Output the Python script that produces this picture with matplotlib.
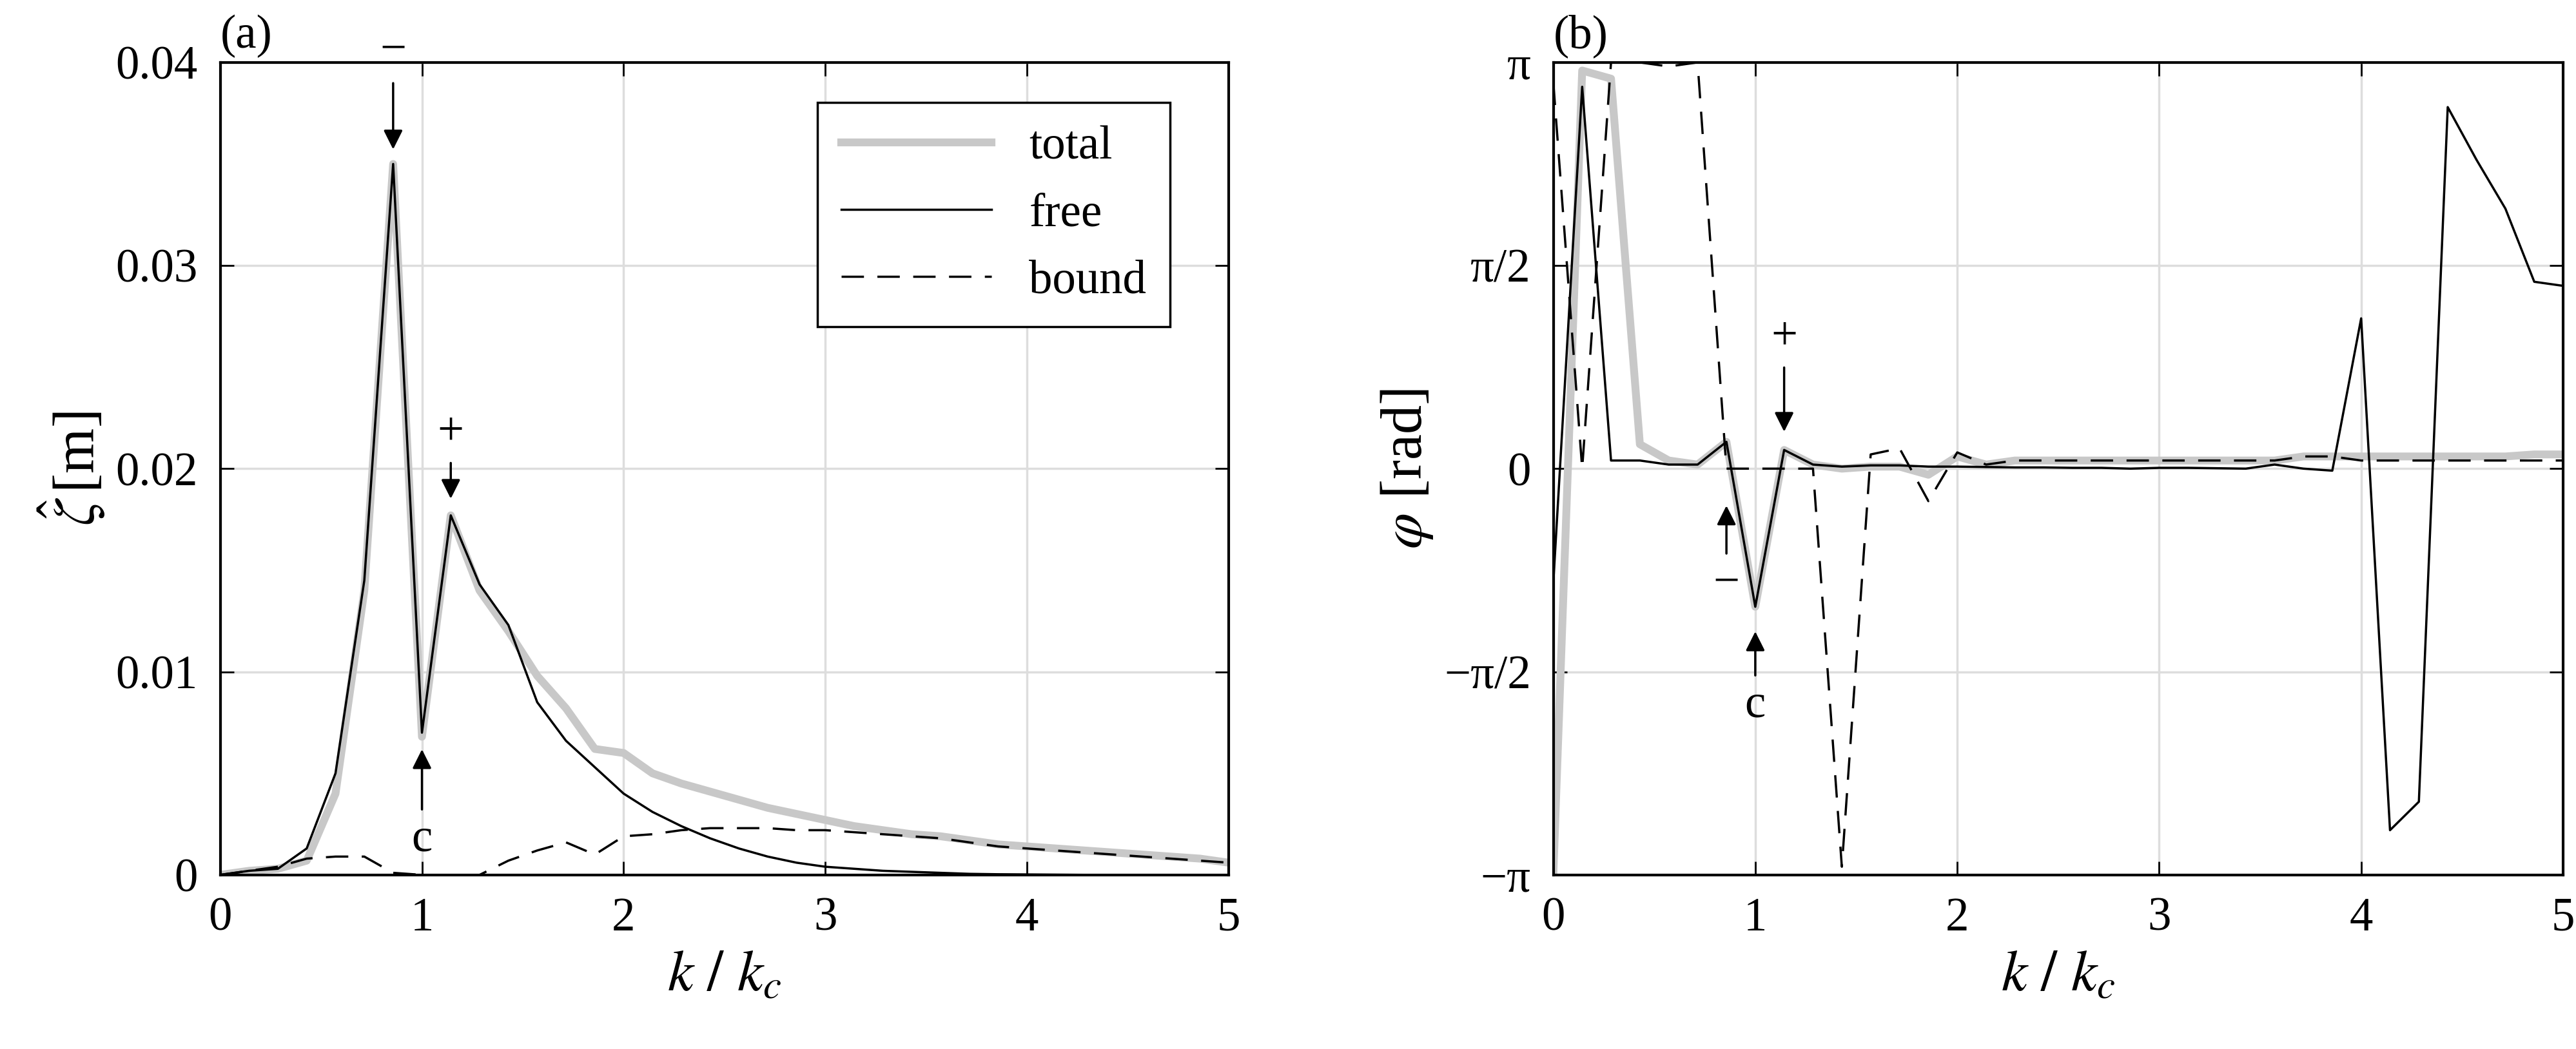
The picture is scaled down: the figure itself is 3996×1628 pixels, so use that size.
import numpy as np
import matplotlib
matplotlib.use("Agg")
import matplotlib.pyplot as plt

plt.rcParams['font.family'] = ['Liberation Serif', 'DejaVu Serif']
plt.rcParams['mathtext.fontset'] = 'stix'

k = np.arange(36) / 7.0

amp_free = [0, 0.0002, 0.0003, 0.0013, 0.005, 0.0145, 0.035, 0.007, 0.0177, 0.0143, 0.0123,
            0.0085, 0.0066, 0.0053, 0.004, 0.0031, 0.0024, 0.0018, 0.0013, 0.0009, 0.0006,
            0.0004, 0.0003, 0.0002, 0.00015, 0.0001, 0.00005, 0.00003, 0.00002, 0.00001,
            0, 0, 0, 0, 0, 0]
amp_bound = [0, 0.0002, 0.0004, 0.0008, 0.0009, 0.0009, 0.0001, 0, 0, 0, 0.0007,
             0.0012, 0.0016, 0.001, 0.0019, 0.002, 0.0022, 0.0023, 0.0023, 0.0023, 0.0022,
             0.0022, 0.0021, 0.002, 0.0019, 0.0018, 0.0016, 0.0014, 0.0013, 0.0012, 0.0011,
             0.001, 0.0009, 0.0008, 0.0007, 0.0006]
amp_total = [0, 0.0002, 0.0003, 0.0007, 0.004, 0.014, 0.035, 0.0068, 0.0177, 0.014, 0.012,
             0.0098, 0.0082, 0.0062, 0.006, 0.005, 0.0045, 0.0041, 0.0037, 0.0033, 0.003,
             0.0027, 0.0024, 0.0022, 0.002, 0.0019, 0.0017, 0.0015, 0.0014, 0.0013, 0.0012,
             0.0011, 0.001, 0.0009, 0.0008, 0.0006]

# phases in units of pi
ph_free = [-0.28, 0.94, 0.02, 0.02, 0.01, 0.01, 0.066, -0.34, 0.046, 0.01, 0.005,
           0.008, 0.008, 0.005, 0.005, 0.004, 0.003, 0.003, 0.002, 0.002, 0.0,
           0.002, 0.002, 0.001, 0.0, 0.01, 0.0, -0.005, 0.37, -0.89, -0.82,
           0.89, 0.76, 0.64, 0.46, 0.45]
ph_bound = [0.95, 0.0, 1.0, 1.0, 0.99, 1.0, 0.0, 0.0, 0.0, 0.0, -0.98,
            0.035, 0.05, -0.08, 0.04, 0.01, 0.02, 0.02, 0.02, 0.02, 0.02,
            0.02, 0.02, 0.02, 0.02, 0.02, 0.03, 0.03, 0.02, 0.02, 0.02,
            0.02, 0.02, 0.02, 0.02, 0.02]
ph_total = [-1.0, 0.98, 0.96, 0.06, 0.02, 0.01, 0.066, -0.34, 0.046, 0.01, 0.0,
            0.005, 0.005, -0.015, 0.03, 0.01, 0.02, 0.02, 0.02, 0.02, 0.02,
            0.02, 0.02, 0.02, 0.02, 0.02, 0.03, 0.03, 0.03, 0.03, 0.03,
            0.03, 0.03, 0.03, 0.035, 0.035]

fig = plt.figure(figsize=(15.984, 6.512), dpi=250)
ax1 = fig.add_axes([0.0855, 0.166, 0.3915, 0.7745])
ax2 = fig.add_axes([0.603, 0.166, 0.392, 0.7745])

gray = '#c8c8c8'
for ax in (ax1, ax2):
    ax.grid(True, color='#dddddd', lw=1.0)
    ax.set_axisbelow(True)
    ax.tick_params(direction='in', top=True, right=True, labelsize=21, length=6, pad=10)
    ax.set_xlim(0, 5)
    ax.set_xticks([0, 1, 2, 3, 4, 5])
    ax.set_xlabel('$k\\ /\\ k_c$', fontsize=26)
    for s in ax.spines.values():
        s.set_linewidth(1.2)

ax1.plot(k, amp_total, color=gray, lw=3.5, label='total')
ax1.plot(k, amp_free, color='black', lw=1.0, label='free')
ax1.plot(k, amp_bound, color='black', lw=1.0, ls=(0, (10, 6)), label='bound')
ax1.set_ylim(0, 0.04)
ax1.set_yticks([0, 0.01, 0.02, 0.03, 0.04])
ax1.set_yticklabels(['0', '0.01', '0.02', '0.03', '0.04'])
ax1.set_ylabel('$\\hat{\\zeta}\\,$[m]', fontsize=26)
leg = ax1.legend(loc='upper right', fontsize=21, fancybox=False, edgecolor='black',
                 framealpha=1, handlelength=3.2, borderpad=0.5, bbox_to_anchor=(0.965, 0.98))
leg.get_frame().set_linewidth(1.0)
ax1.text(0.0, 1.005, '(a)', transform=ax1.transAxes, fontsize=21, va='bottom')

ap = dict(arrowstyle='-|>', color='black', lw=1.0, mutation_scale=18)
ax1.annotate('', xy=(6/7, 0.0355), xytext=(6/7, 0.0392), arrowprops=ap)
ax1.text(6/7, 0.0395, '−', ha='center', va='bottom', fontsize=21)
ax1.annotate('', xy=(8/7, 0.0183), xytext=(8/7, 0.0205), arrowprops=ap)
ax1.text(8/7, 0.0207, '+', ha='center', va='bottom', fontsize=21)
ax1.annotate('', xy=(1.0, 0.0064), xytext=(1.0, 0.003), arrowprops=ap)
ax1.text(1.0, 0.0028, 'c', ha='center', va='top', fontsize=21)

pi = np.pi
ax2.plot(k, np.array(ph_total) * pi, color=gray, lw=3.5)
ax2.plot(k, np.array(ph_free) * pi, color='black', lw=1.0)
ax2.plot(k, np.array(ph_bound) * pi, color='black', lw=1.0, ls=(0, (10, 6)))
ax2.set_ylim(-pi, pi)
ax2.set_yticks([-pi, -pi/2, 0, pi/2, pi])
ax2.set_yticklabels(['−π', '−π/2', '0', 'π/2', 'π'])
ax2.set_ylabel('$\\varphi$ [rad]', fontsize=26)
ax2.text(0.0, 1.005, '(b)', transform=ax2.transAxes, fontsize=21, va='bottom')
ax2.annotate('', xy=(8/7, 0.08*pi), xytext=(8/7, 0.26*pi), arrowprops=ap)
ax2.text(8/7, 0.27*pi, '+', ha='center', va='bottom', fontsize=21)
ax2.annotate('', xy=(6/7, -0.08*pi), xytext=(6/7, -0.22*pi), arrowprops=ap)
ax2.text(6/7, -0.23*pi, '−', ha='center', va='top', fontsize=21)
ax2.annotate('', xy=(1.0, -0.39*pi), xytext=(1.0, -0.52*pi), arrowprops=ap)
ax2.text(1.0, -0.53*pi, 'c', ha='center', va='top', fontsize=21)

fig.savefig('out.png', dpi=250)
